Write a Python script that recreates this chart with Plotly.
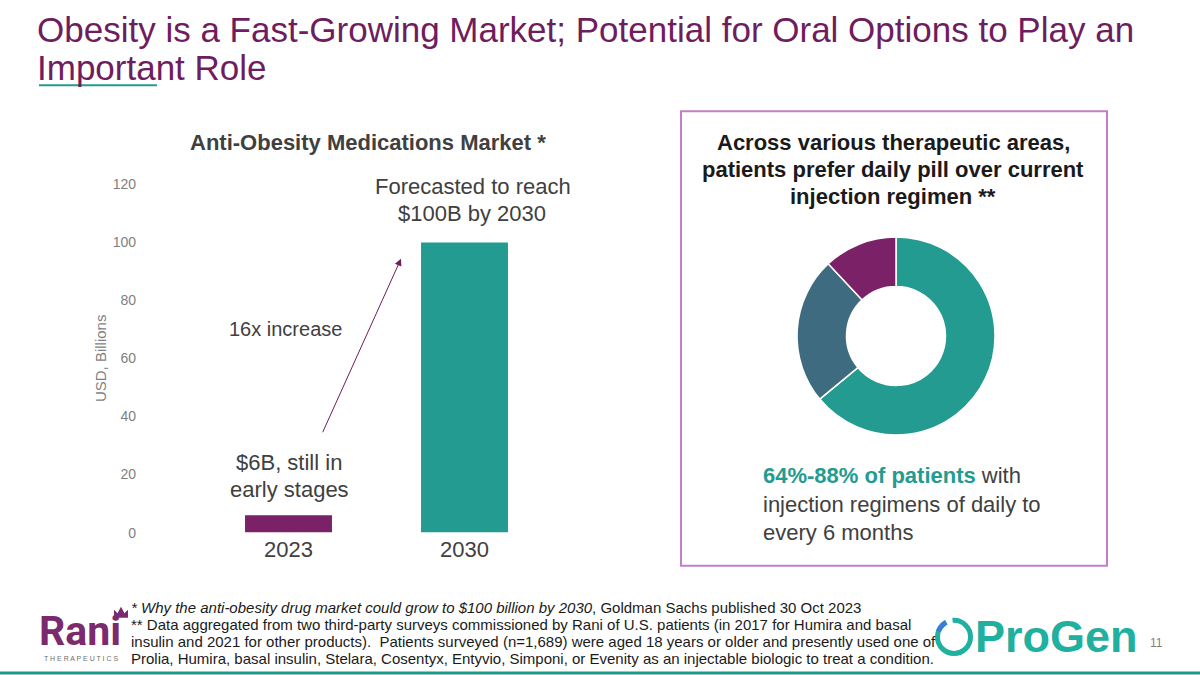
import math
import plotly.graph_objects as go

# ---------------- data ----------------
years = ["2023", "2030"]
market_usd_bn = [6, 100]
bar_colors = ["#7b2167", "#239b90"]
y_ticks = [0, 20, 40, 60, 80, 100, 120]

pref_labels = ["Prefer daily pill", "Prefer current injection", "No preference"]
pref_share = [64, 24, 12]
pref_colors = ["#239b90", "#3e6b7f", "#7b2167"]

W, H = 1200, 675
FONT = "Liberation Sans, Arial, sans-serif"
TEAL = "#239b90"
PURPLE = "#6e1d5e"
DARK = "#404040"

# the photographed page shows the figure 9px down and 657px tall
OFF_Y, EFF_H = 9.0, 657.0


def X(px):
    return px / W


def Y(py):
    return 1 - (py - OFF_Y) / EFF_H


fig = go.Figure()

# ---------------- bar chart ----------------
fig.add_trace(go.Bar(
    x=years, y=market_usd_bn, marker=dict(color=bar_colors, line=dict(width=0)),
    width=0.494, hoverinfo="skip", showlegend=False, xaxis="x", yaxis="y",
))

# x-range so that category centers sit at 288.5 px and 464.5 px
x_left_px, x_right_px = 142, 560
c0, step = 288.5, 176.0
xr = [(x_left_px - c0) / step, (x_right_px - c0) / step]

# ---------------- donut ----------------
fig.add_trace(go.Pie(
    labels=pref_labels, values=pref_share, hole=0.5, sort=False,
    direction="clockwise", rotation=0,
    marker=dict(colors=pref_colors, line=dict(color="white", width=1.5)),
    textinfo="none", hoverinfo="skip", showlegend=False,
    domain=dict(x=[X(797), X(995)], y=[Y(435), Y(237)]),
))

fig.update_layout(
    width=W, height=H, autosize=False, margin=dict(l=0, r=0, t=0, b=0, pad=0),
    paper_bgcolor="white", plot_bgcolor="white",
    font=dict(family=FONT),
    xaxis=dict(domain=[X(x_left_px), X(x_right_px)], range=xr, type="category",
               showgrid=False, zeroline=False, showline=False, ticks="",
               tickfont=dict(size=22, color=DARK, family=FONT), ticklabelstandoff=1,
               fixedrange=True),
    yaxis=dict(domain=[Y(532), Y(185)], range=[0, 120], tickvals=y_ticks,
               showgrid=False, zeroline=False, showline=False, ticks="",
               tickfont=dict(size=14, color="#7f7f7f", family=FONT), ticklabelstandoff=5,
               fixedrange=True),
)

ann = []


def txt(text, x, y, size, color=DARK, xanchor="center", bold=False, textangle=0,
        yanchor="middle", family=FONT):
    if bold:
        text = "<b>" + text + "</b>"
    ann.append(dict(text=text, x=X(x), y=Y(y), xref="paper", yref="paper",
                    xanchor=xanchor, yanchor=yanchor, showarrow=False, textangle=textangle,
                    font=dict(size=size, color=color, family=family)))


# main title
txt("Obesity is a Fast-Growing Market; Potential for Oral Options to Play an", 35, 30, 35, PURPLE, "left")
txt("Important Role", 35, 68, 35, PURPLE, "left")

# bar chart texts
txt("Anti-Obesity Medications Market *", 368, 143, 22, DARK, bold=True)
txt("USD, Billions", 100, 358, 15, "#7f7f7f", textangle=-90)
txt("Forecasted to reach", 473, 187, 22, DARK)
txt("$100B by 2030", 472, 214, 22, DARK)
txt("16x increase", 285, 329, 20, DARK)
txt("$6B, still in", 289, 462, 22, DARK)
txt("early stages", 289, 489, 22, DARK)

# growth arrow (head at 401,259 ; tail at 322,434 px)
ann.append(dict(text="", x=X(401), y=Y(259), ax=322 - 401, ay=434 - 259,
                xref="paper", yref="paper", axref="pixel", ayref="pixel",
                showarrow=True, arrowhead=2, arrowsize=1.4, arrowwidth=1,
                arrowcolor=PURPLE, standoff=0, startstandoff=0))

# right panel texts
txt("Across various therapeutic areas,", 893, 143, 22, "#1a1a1a", bold=True)
txt("patients prefer daily pill over current", 893, 170, 22, "#1a1a1a", bold=True)
txt("injection regimen **", 893, 197, 22, "#1a1a1a", bold=True)
txt("<b><span style='color:%s'>64%%-88%% of patients</span></b> with" % TEAL, 761, 475, 22, DARK, "left")
txt("injection regimens of daily to", 761, 504, 22, DARK, "left")
txt("every 6 months", 761, 532, 22, DARK, "left")

# footnotes
foot = [
    "<i>* Why the anti-obesity drug market could grow to $100 billion by 2030</i>, Goldman Sachs published 30 Oct 2023",
    "** Data aggregated from two third-party surveys commissioned by Rani of U.S. patients (in 2017 for Humira and basal",
    "insulin and 2021 for other products).  Patients surveyed (n=1,689) were aged 18 years or older and presently used one of",
    "Prolia, Humira, basal insulin, Stelara, Cosentyx, Entyvio, Simponi, or Evenity as an injectable biologic to treat a condition.",
]
for i, line in enumerate(foot):
    txt(line, 129, 607 + i * 16.7, 15, "#1a1a1a", "left")

# logos
txt("<b>Rani</b>", 37, 630, 41, "#7b2a6e", "left", family="Roboto, Liberation Sans, sans-serif")
txt("T H E R A P E U T I C S", 81, 658, 7, "#6e6e6e")
txt("<b>ProGen</b>", 973, 636, 45, "#1fb0a0", "left")
txt("11", 1148, 642, 12, "#7f7f7f", "left")

fig.update_layout(annotations=ann)

# shapes
shapes = []
# title underline
shapes.append(dict(type="line", xref="paper", yref="paper", x0=X(39), x1=X(157), y0=Y(86), y1=Y(86),
                   line=dict(color=TEAL, width=2)))
# right panel frame
shapes.append(dict(type="rect", xref="paper", yref="paper", x0=X(681), x1=X(1107), y0=Y(565), y1=Y(112),
                   line=dict(color="#c57dc8", width=2), fillcolor="rgba(0,0,0,0)", layer="below"))
# bottom rule
shapes.append(dict(type="line", xref="paper", yref="paper", x0=0, x1=1, y0=Y(672), y1=Y(672),
                   line=dict(color="#1e9a8c", width=3)))
# Rani crown
crown = [(114, 617), (114, 609), (117.5, 612.5), (121, 606), (124.5, 612.5), (128, 609), (128, 617)]
shapes.append(dict(type="path", xref="paper", yref="paper",
                   path="M " + " L ".join("%.5f,%.5f" % (X(a), Y(b)) for a, b in crown) + " Z",
                   fillcolor="#7b2a6e", line=dict(width=0)))
# ProGen ring icon
cx, cy, r = 954, 636, 16.5
shapes.append(dict(type="circle", xref="paper", yref="paper", x0=X(cx - r), x1=X(cx + r),
                   y0=Y(cy + r), y1=Y(cy - r), line=dict(color="#1fb0a0", width=5)))


def arc_path(a0, a1, n=12):
    pts = []
    for k in range(n + 1):
        a = math.radians(a0 + (a1 - a0) * k / n)
        pts.append((X(cx + r * math.cos(a)), Y(cy - r * math.sin(a))))
    return "M " + " L ".join("%.5f,%.5f" % p for p in pts)


shapes.append(dict(type="path", xref="paper", yref="paper", path=arc_path(95, 118),
                   line=dict(color="white", width=8)))
shapes.append(dict(type="path", xref="paper", yref="paper", path=arc_path(118, 160),
                   line=dict(color="#3b7dd8", width=5)))
fig.update_layout(shapes=shapes)

fig.write_html(
    "out.html",
    config={"responsive": False, "displayModeBar": False},
    post_script="document.body.style.margin='0';document.body.style.overflow='hidden';",
)
